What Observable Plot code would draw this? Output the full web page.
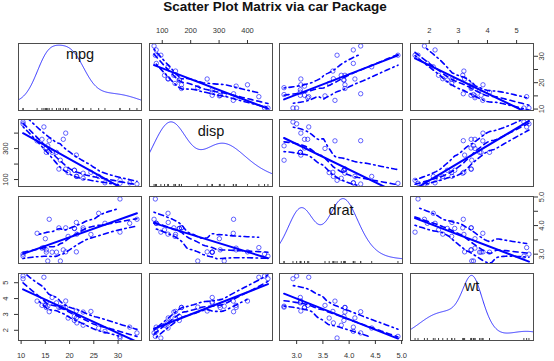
<!DOCTYPE html>
<html><head><meta charset="utf-8">
<script src="https://cdn.jsdelivr.net/npm/d3@7"></script>
<script src="https://cdn.jsdelivr.net/npm/@observablehq/plot@0.6"></script>
<style>
body{margin:0;background:#fff;}
#wrap{position:relative;width:554px;height:361px;font-family:"Liberation Sans",Arial,sans-serif;overflow:hidden;}
#title{position:absolute;left:0;top:0;width:550px;text-align:center;font-weight:bold;font-size:13.5px;line-height:14px;color:#111;}
</style></head>
<body><div id="wrap"><div id="title"></div></div>
<script>
const title = "Scatter Plot Matrix via car Package";
const varNames = ["mpg", "disp", "drat", "wt"];
const mpg  = [21.0,21.0,22.8,21.4,18.7,18.1,14.3,24.4,22.8,19.2,17.8,16.4,17.3,15.2,10.4,10.4,14.7,32.4,30.4,33.9,21.5,15.5,15.2,13.3,19.2,27.3,26.0,30.4,15.8,19.7,15.0,21.4];
const disp = [160,160,108,258,360,225,360,146.7,140.8,167.6,167.6,275.8,275.8,275.8,472,460,440,78.7,75.7,71.1,120.1,318,304,350,400,79,120.3,95.1,351,145,301,121];
const drat = [3.90,3.90,3.85,3.08,3.15,2.76,3.21,3.69,3.92,3.92,3.92,3.07,3.07,3.07,2.93,3.00,3.23,4.08,4.93,4.22,3.70,2.76,3.15,3.73,3.08,4.08,4.43,3.77,4.22,3.62,3.54,4.11];
const wt   = [2.620,2.875,2.320,3.215,3.440,3.460,3.570,3.190,3.150,3.440,3.440,4.070,3.730,3.780,5.250,5.424,5.345,2.200,1.615,1.835,2.465,3.520,3.435,3.840,3.845,1.935,2.140,1.513,3.170,2.770,3.570,2.780];

// tick values and the labels R actually printed on each side
const ticks = {mpg:[10,15,20,25,30], disp:[100,200,300,400], drat:[3,3.5,4,4.5,5], wt:[2,3,4,5]};
const labelsTop    = {disp:[100,200,300,400], wt:[2,3,4,5]};
const labelsBottom = {mpg:[10,15,20,25,30], drat:[3,3.5,4,4.5,5]};
const labelsLeft   = {disp:[100,300], wt:[2,3,4,5]};
const labelsRight  = {mpg:[10,20,30], drat:[3,4,5]};

const cols = {mpg, disp, drat, wt};
const fmt = {mpg: d => String(d), disp: d => String(d), drat: d => d.toFixed(1), wt: d => String(d)};

document.getElementById("title").textContent = title;

// R-style 4% expanded domains
const dom = {};
for (const v of varNames) { const [a, b] = d3.extent(cols[v]); const e = 0.04 * (b - a); dom[v] = [a - e, b + e]; }

// ---- statistics (car defaults) ----
function bwNrd0(x) {
  const s = d3.deviation(x), sorted = x.slice().sort((a, b) => a - b);
  const iqr = d3.quantileSorted(sorted, 0.75) - d3.quantileSorted(sorted, 0.25);
  let lo = Math.min(s, iqr / 1.34);
  if (!(lo > 0)) lo = s || Math.abs(x[0]) || 1;
  return 0.9 * lo * Math.pow(x.length, -0.2);
}
function adaptiveKernel(x, n = 500, cut = 3) {
  const N = x.length, bw = bwNrd0(x);
  const from = d3.min(x) - cut * bw, to = d3.max(x) + cut * bw;
  const K = u => Math.exp(-u * u / 2) / Math.sqrt(2 * Math.PI);
  const pilot = x0 => d3.sum(x, xi => K((x0 - xi) / bw)) / (N * bw);
  const f = x.map(pilot);
  const g = Math.exp(d3.mean(f, Math.log));
  const lam = f.map(fi => Math.pow(fi / g, -0.5));
  const dens = x0 => d3.sum(x, (xi, i) => K((x0 - xi) / (lam[i] * bw)) / lam[i]) / (N * bw);
  return d3.range(n).map(k => { const x0 = from + k * (to - from) / (n - 1); return {x: x0, d: dens(x0)}; });
}
function loess(xs, ys, xe, span, degree, iterations) {
  const n = xs.length, q = Math.max(2, Math.floor(n * span));
  let rob = new Array(n).fill(1);
  const local = x0 => {
    const d = xs.map(x => Math.abs(x - x0));
    let h = d.slice().sort((a, b) => a - b)[q - 1];
    if (!(h > 0)) h = 1e-9;
    let sw = 0, sx = 0, sy = 0, sxx = 0, sxy = 0;
    for (let i = 0; i < n; i++) {
      const u = d[i] / h; if (u >= 1) continue;
      const w = Math.pow(1 - u * u * u, 3) * rob[i];
      sw += w; sx += w * xs[i]; sy += w * ys[i]; sxx += w * xs[i] * xs[i]; sxy += w * xs[i] * ys[i];
    }
    if (sw <= 0) return NaN;
    const mx = sx / sw, my = sy / sw;
    if (degree === 0) return my;
    const vx = sxx / sw - mx * mx;
    if (vx <= 1e-12) return my;
    return my + (sxy / sw - mx * my) / vx * (x0 - mx);
  };
  let fitted;
  for (let it = 0; it < iterations; it++) {
    fitted = xs.map(local);
    if (it < iterations - 1) {
      const res = ys.map((y, i) => y - fitted[i]);
      const cmad = 6 * d3.median(res.map(Math.abs));
      rob = res.map(r => { if (!(cmad > 0)) return 1; const u = Math.abs(r) / cmad; return u < 1 ? Math.pow(1 - u * u, 2) : 0; });
    }
  }
  const [lo, hi] = d3.extent(xs);
  return {fitted, pred: xe.map(x0 => (x0 < lo - 1e-9 || x0 > hi + 1e-9) ? NaN : local(x0))};
}
function smoothLines(x, y) {
  const [a, b] = d3.extent(x);
  const xe = d3.range(50).map(k => a + k * (b - a) / 49);
  const main = loess(x, y, xe, 2 / 3, 1, 4);
  const res = y.map((v, i) => v - main.fitted[i]);
  const pi = res.map((r, i) => i).filter(i => res[i] > 0), ni = res.map((r, i) => i).filter(i => !(res[i] > 0));
  const pos = loess(pi.map(i => x[i]), pi.map(i => res[i] ** 2), xe, 2 / 3, 0, 1);
  const neg = loess(ni.map(i => x[i]), ni.map(i => res[i] ** 2), xe, 2 / 3, 0, 1);
  return {
    mid: xe.map((x0, k) => ({x: x0, y: main.pred[k]})),
    up: xe.map((x0, k) => ({x: x0, y: main.pred[k] + Math.sqrt(Math.max(pos.pred[k], 0))})),
    lo: xe.map((x0, k) => ({x: x0, y: main.pred[k] - Math.sqrt(Math.max(neg.pred[k], 0))}))
  };
}

// ---- layout ----
const colL = [18, 149, 279, 410], rowT = [43, 119, 196, 273], W = 123, H = 67, M = 26;
const wrap = document.getElementById("wrap");
const ink = "#333", blue = "#0000ff";
const tickSize = 4;

for (let i = 0; i < 4; i++) {
  for (let j = 0; j < 4; j++) {
    const xv = varNames[j], yv = varNames[i];
    const marks = [];
    if (i === j) {
      const x = cols[xv];
      const dens = adaptiveKernel(x);
      const [dmin, dmax] = d3.extent(dens, d => d.d);
      const [xmin, xmax] = d3.extent(x);
      const curve = dens.map(p => ({x: p.x, y: xmin + p.d * (xmax - xmin) / (dmax - dmin)}));
      marks.push(Plot.line(curve, {x: "x", y: "y", stroke: blue, strokeWidth: 1, strokeOpacity: 0.8, clip: true}));
      const span = dom[yv][1] - dom[yv][0];
      marks.push(Plot.ruleX(x, {x: d => d, y1: dom[yv][0], y2: dom[yv][0] + 0.03 * span, stroke: "#444", strokeWidth: 1}));
      const fs = 14.5;
      const asc = /[bdfhklA-Z]/.test(xv) ? 0.72 : (/t/.test(xv) ? 0.64 : 0.52);
      const desc = /[gjpqy]/.test(xv) ? 0.21 : 0;
      const base = 12.8 + (asc - desc) * fs / 2;
      marks.push(Plot.text([xv], {text: d => d, frameAnchor: "top", dy: base, lineAnchor: "bottom", fontSize: fs, fill: "#111"}));
    } else {
      const xs = cols[xv], ys = cols[yv];
      const pts = xs.map((v, k) => ({x: v, y: ys[k]}));
      const sm = smoothLines(xs, ys);
      marks.push(Plot.dot(pts, {x: "x", y: "y", r: 2.2, stroke: blue, strokeOpacity: 0.6, strokeWidth: 1, clip: true}));
      marks.push(Plot.linearRegressionY(pts, {x: "x", y: "y", stroke: blue, strokeWidth: 2, ci: 0, clip: true}));
      marks.push(Plot.line(sm.mid, {x: "x", y: "y", stroke: blue, strokeWidth: 1.6, strokeDasharray: "5,4", clip: true}));
      marks.push(Plot.line(sm.up, {x: "x", y: "y", stroke: blue, strokeWidth: 1.6, strokeDasharray: "1.5,3.5,5,3.5", clip: true}));
      marks.push(Plot.line(sm.lo, {x: "x", y: "y", stroke: blue, strokeWidth: 1.6, strokeDasharray: "1.5,3.5,5,3.5", clip: true}));
    }
    marks.push(Plot.frame({stroke: "#4d4d4d", strokeWidth: 1}));
    // axes as in R pairs(): top on even columns, bottom on odd columns, right on odd rows, left on even rows
    if (i === 0 && labelsTop[xv]) marks.push(Plot.axisX({anchor: "top", ticks: ticks[xv], tickSize, tickPadding: 6.7, label: null, fontSize: 7.5, color: ink, tickFormat: d => labelsTop[xv].includes(d) ? fmt[xv](d) : ""}));
    if (i === 3 && labelsBottom[xv]) marks.push(Plot.axisX({anchor: "bottom", ticks: ticks[xv], tickSize, tickPadding: 7.7, label: null, fontSize: 7.5, color: ink, tickFormat: d => labelsBottom[xv].includes(d) ? fmt[xv](d) : ""}));
    if (j === 0 && labelsLeft[yv]) marks.push(Plot.axisY({anchor: "left", ticks: ticks[yv], tickSize, tickPadding: 6.7, tickRotate: -90, label: null, fontSize: 7.5, color: ink, tickFormat: d => labelsLeft[yv].includes(d) ? fmt[yv](d) : ""}));
    if (j === 3 && labelsRight[yv]) marks.push(Plot.axisY({anchor: "right", ticks: ticks[yv], tickSize, tickPadding: 6.7, tickRotate: -90, label: null, fontSize: 7.5, color: ink, tickFormat: d => labelsRight[yv].includes(d) ? fmt[yv](d) : ""}));

    const svg = Plot.plot({
      width: W + 2 * M, height: H + 2 * M, margin: M,
      x: {domain: dom[xv], axis: null},
      y: {domain: dom[yv], axis: null},
      style: {background: "transparent", overflow: "visible", fontFamily: "Liberation Sans, Arial, sans-serif"},
      marks
    });
    svg.style.position = "absolute";
    svg.style.left = (colL[j] - M) + "px";
    svg.style.top = (rowT[i] - M) + "px";
    wrap.appendChild(svg);
  }
}
</script>
</body></html>
